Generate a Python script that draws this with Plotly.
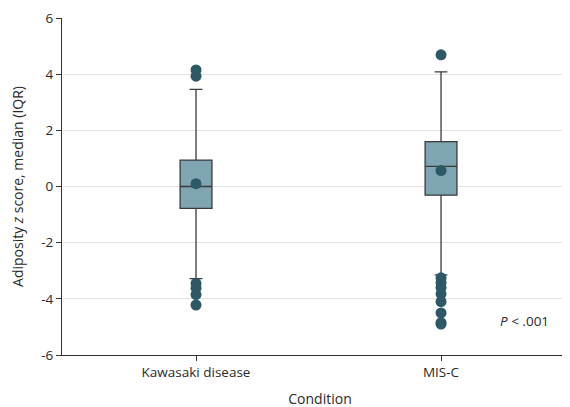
import plotly.graph_objects as go

categories = ["Kawasaki disease", "MIS-C"]
q1 = [-0.78, -0.31]
median = [0.0, 0.72]
q3 = [0.94, 1.60]
lower_whisker = [-3.28, -3.15]
upper_whisker = [3.46, 4.08]
means = [0.10, 0.57]
outliers_kd = [4.15, 3.93, -3.45, -3.62, -3.85, -4.22]
outliers_misc = [4.69, -3.25, -3.42, -3.60, -3.82, -4.10, -4.50, -4.85, -4.90]
ytick_vals = [-6, -4, -2, 0, 2, 4, 6]
ytick_text = ["-6", "-4", "-2", "0", "2", "4", "6"]

box_fill = "#7fa5b2"
dot_color = "#2d5866"
font_family = "Open Sans"
text_color = "#2a2a2a"

fig = go.Figure()
fig.add_trace(go.Box(
    x=categories, q1=q1, median=median, q3=q3,
    lowerfence=lower_whisker, upperfence=upper_whisker,
    fillcolor=box_fill, line=dict(color="#3a3a3a", width=1.3),
    width=0.13, whiskerwidth=0.4, boxpoints=False, showlegend=False,
))
fig.add_trace(go.Scatter(
    x=[categories[0]] * len(outliers_kd) + [categories[1]] * len(outliers_misc),
    y=outliers_kd + outliers_misc,
    mode="markers", marker=dict(color=dot_color, size=11), showlegend=False,
))
fig.add_trace(go.Scatter(
    x=categories, y=means, mode="markers",
    marker=dict(color=dot_color, size=11), showlegend=False,
))

fig.add_annotation(
    x=1.45, y=-4.8, xref="x", yref="y", text="<i>P</i> < .001",
    showarrow=False, font=dict(size=13.5, color=text_color, family=font_family),
    xanchor="right",
)

fig.update_layout(
    width=570, height=407,
    margin=dict(l=54, r=0, t=10, b=60),
    plot_bgcolor="white", paper_bgcolor="white",
    font=dict(family=font_family, size=13.5, color=text_color),
    xaxis=dict(
        type="category", range=[-0.547, 1.559], automargin=False,
        showline=True, linecolor="#333333", linewidth=1,
        ticks="outside", ticklen=5, tickcolor="#333333",
        showgrid=False, zeroline=False,
        title=dict(text="Condition", standoff=13, font=dict(size=14)),
    ),
    yaxis=dict(
        range=[-6, 6], tickvals=ytick_vals, ticktext=ytick_text, automargin=False,
        showline=True, linecolor="#333333", linewidth=1,
        ticks="outside", ticklen=5, tickcolor="#333333",
        showgrid=True, gridcolor="#e3e3e3", gridwidth=1,
        zeroline=False,
        title=dict(text="Adiposity <i>z</i> score, median (IQR)", standoff=17, font=dict(size=14)),
    ),
)

fig.write_html("out.html")
